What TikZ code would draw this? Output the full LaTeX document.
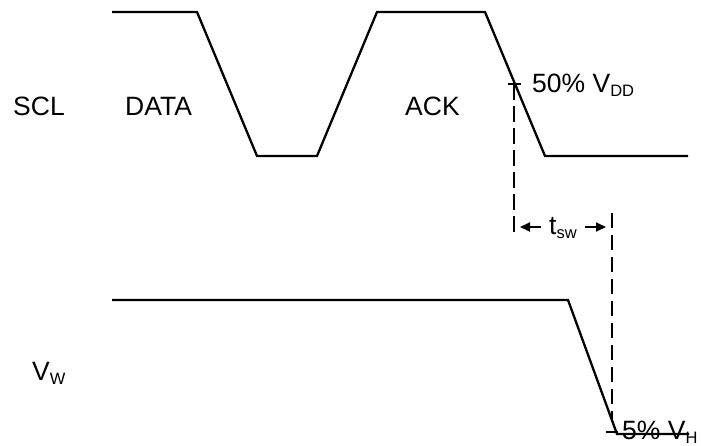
\documentclass[tikz,border=0pt]{standalone}
\usepackage{fontspec}
\setmainfont{Liberation Sans}
\usetikzlibrary{arrows.meta}
\newcommand\mysub[1]{\raisebox{-4pt}{\fontsize{16.5}{18}\selectfont #1}}
\begin{document}
\begin{tikzpicture}[x=1pt,y=-1pt,
  wave/.style={line width=2.3pt, line join=miter},
  tickline/.style={line width=1.8pt},
  guide/.style={line width=2pt, dash pattern=on 15pt off 7pt},
  dimarrow/.style={line width=1.8pt, -{Triangle[length=10pt,width=9pt]}},
  lbl/.style={anchor=base west, inner sep=0pt, font=\fontsize{26.5}{30}\selectfont}]
\useasboundingbox (0,0) rectangle (701,446);
% SCL waveform
\coordinate (s0) at (112,12);
\coordinate (s1) at (197,12);
\coordinate (s2) at (257,156);
\coordinate (s3) at (317,156);
\coordinate (s4) at (377,12);
\coordinate (s5) at (485,12);
\coordinate (s6) at (545,156);
\coordinate (s7) at (688,156);
\draw[wave] (s0) -- (s1) -- (s2) -- (s3) -- (s4) -- (s5) -- (s6) -- (s7);
% VW waveform
\coordinate (w0) at (112,300);
\coordinate (w1) at (568,300);
\coordinate (w2) at (617,434);
\coordinate (w3) at (689,434);
\draw[wave] (w0) -- (w1) -- (w2) -- (w3);
% ticks
\coordinate (t1a) at (508,84);
\coordinate (t1b) at (521,84);
\draw[tickline] (t1a) -- (t1b);
\coordinate (t2a) at (606,432);
\coordinate (t2b) at (618,432);
\draw[tickline] (t2a) -- (t2b);
% guides
\coordinate (g1a) at (514,84);
\coordinate (g1b) at (514,236);
\draw[guide, dash pattern=on 16pt off 6pt] (g1a) -- (g1b);
\coordinate (g2a) at (612,213);
\coordinate (g2b) at (612,421);
\draw[guide] (g2a) -- (g2b);
% tsw arrows
\coordinate (a1s) at (541,227);
\coordinate (a1e) at (520,227);
\draw[dimarrow] (a1s) -- (a1e);
\coordinate (a2s) at (585,227);
\coordinate (a2e) at (606,227);
\draw[dimarrow] (a2s) -- (a2e);
% labels
\node[lbl] (scl) at (13,116) {SCL};
\node[lbl] (data) at (125,116) {DATA};
\node[lbl] (ack) at (405,116) {ACK};
\node[lbl] (vdd) at (532,92.5) {50\% V\mysub{DD}};
\node[lbl] (tsw) at (549,235) {t\mysub{sw}};
\node[lbl] (vw) at (32,380) {V\mysub{W}};
\node[lbl] (vh) at (622,439) {5\% V\mysub{H}};
\end{tikzpicture}
\end{document}
